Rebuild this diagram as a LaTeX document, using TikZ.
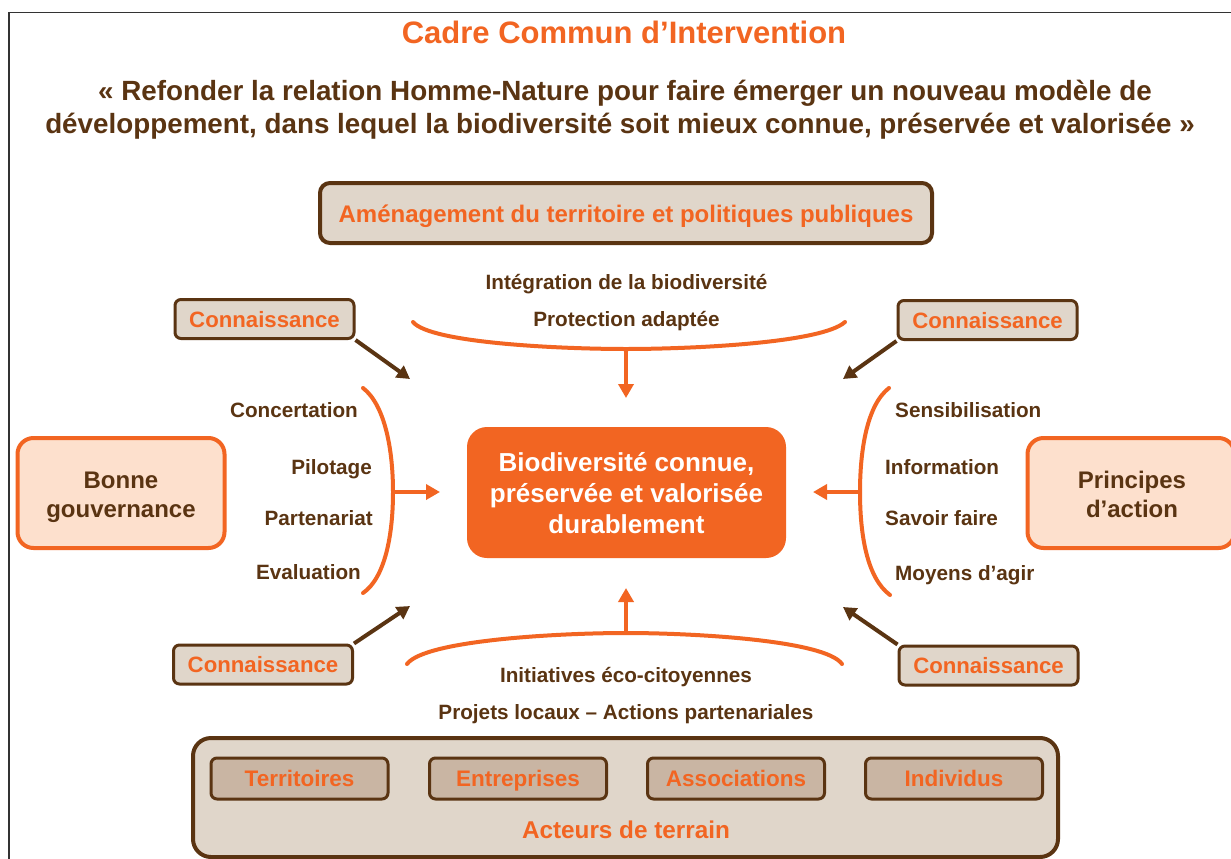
\documentclass[tikz,border=0pt]{standalone}
\usepackage{fontspec}
\setmainfont{Liberation Sans}
\usetikzlibrary{arrows.meta}
\definecolor{org}{HTML}{F26522}
\definecolor{brn}{HTML}{5A3412}
\definecolor{bge}{HTML}{E0D6CA}
\definecolor{bgd}{HTML}{C9B5A3}
\definecolor{pch}{HTML}{FDE0CD}
\definecolor{frm}{HTML}{333333}
\tikzset{
  konbox/.style={draw=brn, line width=3pt, fill=bge, rounded corners=6pt,
    minimum width=179pt, minimum height=39pt, inner sep=0pt, text=org,
    text height=20pt, text depth=4pt,
    font=\fontsize{22.2}{26}\selectfont\bfseries},
  actbox/.style={draw=brn, line width=3pt, fill=bgd, rounded corners=6pt,
    minimum width=177pt, minimum height=41pt, inner sep=0pt, text=org,
    text height=19.5pt, text depth=4.5pt,
    font=\fontsize{22.5}{26}\selectfont\bfseries},
  sidebox/.style={draw=org, line width=4pt, fill=pch, rounded corners=16pt,
    minimum width=207pt, minimum height=110pt, inner sep=0pt},
  sidetext/.style={text=brn, align=center, inner sep=0pt, anchor=base,
    font=\fontsize{24}{29}\selectfont\bfseries},
  lbl/.style={text=brn, inner sep=0pt, font=\fontsize{20.7}{24}\selectfont\bfseries},
  oarrow/.style={draw=org, line width=4pt, -{Triangle[width=15pt,length=14pt]}},
  barrow/.style={draw=brn, line width=4pt, -{Triangle[width=14pt,length=13pt]}},
  bracecurve/.style={draw=org, line width=4pt, line cap=round},
}
\begin{document}
\begin{tikzpicture}[x=1pt,y=-1pt]
\useasboundingbox (0,0) rectangle (1231,859);
\clip (0,0) rectangle (1231,859);
\fill[white] (0,0) rectangle (1231,859);
\draw[frm, line width=1.5pt] (9,12.5) rectangle (1260,900);

% title
\node[text=org, inner sep=0pt, anchor=base, font=\fontsize{31}{36}\selectfont\bfseries] (title) at (624,43.5) {Cadre Commun d’Intervention};
\node[text=brn, inner sep=0pt, anchor=base, font=\fontsize{27.8}{33}\selectfont\bfseries] (sub1) at (625,100) {« Refonder la relation Homme-Nature pour faire émerger un nouveau modèle de};
\node[text=brn, inner sep=0pt, anchor=base, font=\fontsize{27.8}{33}\selectfont\bfseries] (sub2) at (620,133) {développement, dans lequel la biodiversité soit mieux connue, préservée et valorisée »};

% top box
\node[draw=brn, line width=4pt, fill=bge, rounded corners=10pt, minimum width=612pt, minimum height=60pt,
  inner sep=0pt, text=org, text height=22pt, text depth=4pt,
  font=\fontsize{24}{28}\selectfont\bfseries] (amen) at (626,213) {Aménagement du territoire et politiques publiques};

\node[lbl, anchor=base] (integ) at (626.5,289) {Intégration de la biodiversité};
\node[lbl, anchor=base] (protec) at (626.5,326) {Protection adaptée};

% center
\node[fill=org, rounded corners=20pt, minimum width=319pt, minimum height=131pt, inner sep=0pt] (bio) at (626.5,492.5) {};
\node[text=white, align=center, inner sep=0pt, anchor=base, font=\fontsize{26}{31}\selectfont\bfseries]
  (biotxt) at (626.5,533) {Biodiversité connue,\\préservée et valorisée\\durablement};

% side boxes
\node[sidebox] (gouv) at (121,493) {};
\node[sidetext] (gouvtxt) at (121,517) {Bonne\\gouvernance};
\node[sidebox] (princ) at (1131,493) {};
\node[sidetext] (princtxt) at (1132,517) {Principes\\d’action};

% connaissance boxes
\node[konbox] (kTL) at (264.5,319) {Connaissance};
\node[konbox] (kTR) at (987.5,320) {Connaissance};
\node[konbox] (kBL) at (263,664.5) {Connaissance};
\node[konbox] (kBR) at (988.5,665.5) {Connaissance};

% left labels
\node[lbl, anchor=base east] (l1) at (358,417) {Concertation};
\node[lbl, anchor=base east] (l2) at (372,474) {Pilotage};
\node[lbl, anchor=base east] (l3) at (373,525) {Partenariat};
\node[lbl, anchor=base east] (l4) at (361,579) {Evaluation};
% right labels
\node[lbl, anchor=base west] (r1) at (895,417) {Sensibilisation};
\node[lbl, anchor=base west] (r2) at (885,474) {Information};
\node[lbl, anchor=base west] (r3) at (885,525) {Savoir faire};
\node[lbl, anchor=base west] (r4) at (895,580) {Moyens d’agir};

% bottom labels
\node[lbl, anchor=base] (initi) at (626,682) {Initiatives éco-citoyennes};
\node[lbl, anchor=base] (proj) at (626,719) {Projets locaux – Actions partenariales};

% bottom box
\node[draw=brn, line width=4pt, fill=bge, rounded corners=18pt, minimum width=865pt, minimum height=119pt,
  inner sep=0pt] (acteurs) at (625.5,797.5) {};
\node[text=org, inner sep=0pt, anchor=base, font=\fontsize{24.3}{28}\selectfont\bfseries] (actlbl) at (626,838) {Acteurs de terrain};
\node[actbox] (terr) at (299.5,778.5) {Territoires};
\node[actbox] (entr) at (518,778.5) {Entreprises};
\node[actbox] (asso) at (736,778.5) {Associations};
\node[actbox] (indiv) at (954,778.5) {Individus};

% braces
\coordinate (tbm) at (626,349);
\coordinate (bbm) at (626,633);
\coordinate (lbm) at (393,492);
\coordinate (rbm) at (860,492);
\draw[bracecurve] (413,322) .. controls (430,343) and (560,349) .. (tbm) .. controls (692,349) and (822,343) .. (845,322);
\draw[bracecurve] (407,664) .. controls (425,640) and (560,633) .. (bbm) .. controls (692,633) and (825,640) .. (842,664);
\draw[bracecurve] (363,388) .. controls (385,405) and (393,450) .. (lbm) .. controls (393,535) and (385,578) .. (363,593);
\draw[bracecurve] (889,388) .. controls (867,405) and (860,450) .. (rbm) .. controls (860,535) and (867,578) .. (890,595);

% orange arrows
\coordinate (tTip) at (626,398);
\coordinate (bTip) at (626,588);
\coordinate (lTip) at (440,492);
\coordinate (rTip) at (813,492);
\draw[oarrow] (tbm) -- (tTip);
\draw[oarrow] (bbm) -- (bTip);
\draw[oarrow] (lbm) -- (lTip);
\draw[oarrow] (rbm) -- (rTip);

% brown arrows
\coordinate (kTLtip) at (410,379);
\coordinate (kTRtip) at (843,379);
\coordinate (kBLtip) at (410,606);
\coordinate (kBRtip) at (843,607);
\draw[barrow] (kTL.south east) -- (kTLtip);
\draw[barrow] (kTR.south west) -- (kTRtip);
\draw[barrow] (kBL.north east) -- (kBLtip);
\draw[barrow] (kBR.north west) -- (kBRtip);
\end{tikzpicture}
\end{document}
